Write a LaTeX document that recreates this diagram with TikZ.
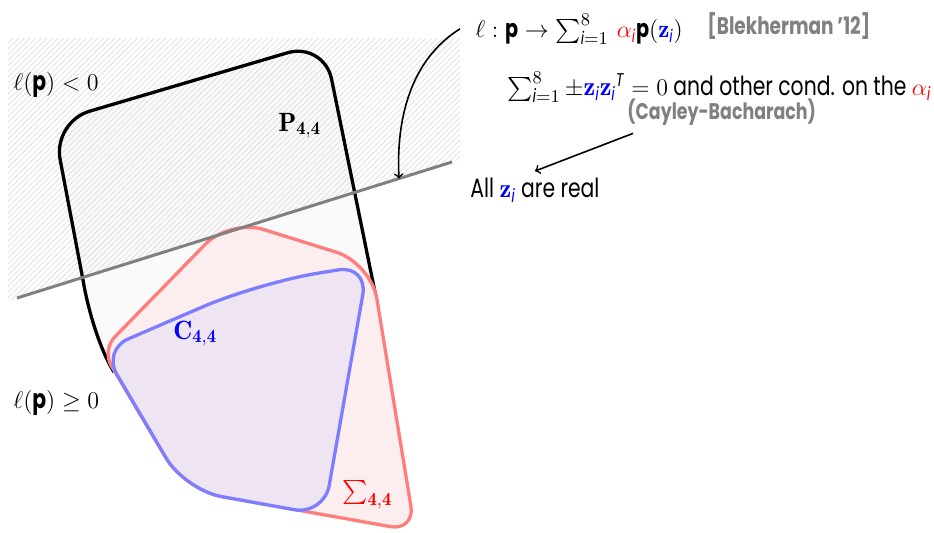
\documentclass[tikz,border=0pt]{standalone}
\usepackage{amsmath}
\usepackage{fontspec}
\setsansfont[FakeStretch=0.77]{Poppins}
\usetikzlibrary{patterns.meta}
\definecolor{sosline}{RGB}{255,125,125}
\definecolor{sosfill}{RGB}{252,238,238}
\definecolor{cvxline}{RGB}{125,125,255}
\definecolor{cvxfill}{RGB}{238,228,242}
\newcommand{\sfi}{\text{\sffamily\itshape i}}
\newcommand{\sfbp}{\text{\sffamily\bfseries p}}
\newcommand{\sfT}{\text{\sffamily\itshape T}}
\begin{document}
\begin{tikzpicture}
[x=0.5pt, y=-0.5pt, font=\sffamily\fontsize{13.2}{15}\selectfont]
\tikzstyle{txt}=[inner sep=0pt, anchor=base west]
\tikzstyle{note}=[txt, text=gray, font=\sffamily\bfseries\fontsize{11.3}{13}\selectfont]
\tikzstyle{edge}=[line width=1.65pt]
\useasboundingbox (0,0) rectangle (934,532);

% P_{4,4}, light inside
\path[fill=black!2] (377,302) [rounded corners=19pt] -- (324,42) -- (53,122) [sharp corners] -- (83,280) .. controls (88,310) and (100,350) .. (114,372) -- cycle;
% half-space l(p)<0
\fill[pattern={Lines[angle=45,distance=2pt,line width=0.3pt]}, pattern color=gray!30] (8,38) -- (460,38) -- (460,159.5) -- (8,301) -- cycle;
\draw[edge] (377,302) [rounded corners=19pt] -- (324,42) -- (53,122) [sharp corners] -- (83,280) .. controls (88,310) and (100,350) .. (114,372);

% Sigma_{4,4}
\draw[edge, draw=sosline, fill=sosfill] (166,284.5) [rounded corners=17.5pt] -- (230,219) [rounded corners=18pt] -- (371,263) [rounded corners=12.5pt] -- (415,531) [rounded corners=18.5pt] -- (185,490) [rounded corners=9pt] -- (102,350) [sharp corners] -- cycle;
% C_{4,4}
\draw[edge, draw=cvxline, fill=cvxfill] (143.75,420) [rounded corners=14pt] -- (102.5,350) [rounded corners=30pt] -- (258,283) [rounded corners=15pt] -- (368,265) [rounded corners=15pt] -- (324,515) [rounded corners=18.5pt] -- (185,490) [sharp corners] -- cycle;

% the hyperplane l = 0
\draw[gray, line width=1.5pt] (17,298) -- (452,162);
\coordinate (hit) at (399,178.6);

\node[txt] (neg) at (13,90) {$\ell(\sfbp)<0$};
\node[txt] (pos) at (13,408) {$\ell(\sfbp)\geq 0$};
\node[txt] (P) at (278,131) {$\mathbf{P}_{\mathbf{4,4}}$};
\node[txt, text=blue] (C) at (173,339) {$\mathbf{C}_{\mathbf{4,4}}$};
\node[txt, text=red] (S) at (342,498) {$\sum\nolimits_{\mathbf{4,4}}$};

\node[txt, font=\sffamily\fontsize{12.5}{15}\selectfont] (map) at (475,37) {$\ell:\sfbp\to\sum_{\sfi=1}^{8}\,\textcolor{red}{\alpha_{\sfi}}\sfbp(\textcolor{blue}{\mathbf{z}_{\sfi}})$};
\node[note, font=\sffamily\bfseries\fontsize{12}{13}\selectfont] (ref) at (707,34) {[Blekherman '12]};
\node[txt] (cond) at (507,95) {$\sum_{\sfi=1}^{8}\pm\textcolor{blue}{\mathbf{z}_{\sfi}\mathbf{z}_{\sfi}}^{\sfT}=0$ and other cond. on the $\textcolor{red}{\alpha_{\sfi}}$};
\node[note] (cay) at (627,119) {(Cayley-Bacharach)};
\node[txt] (real) at (470,197) {All $\textcolor{blue}{\mathbf{z}_{\sfi}}$ are real};

\draw[->, thick] ([xshift=-7.5pt]map.west) .. controls (410,60) and (396,120) .. (hit);
\draw[->, thick] ([xshift=3pt,yshift=-4pt]cay.south west) -- ([yshift=3pt]real.north);
\end{tikzpicture}
\end{document}
